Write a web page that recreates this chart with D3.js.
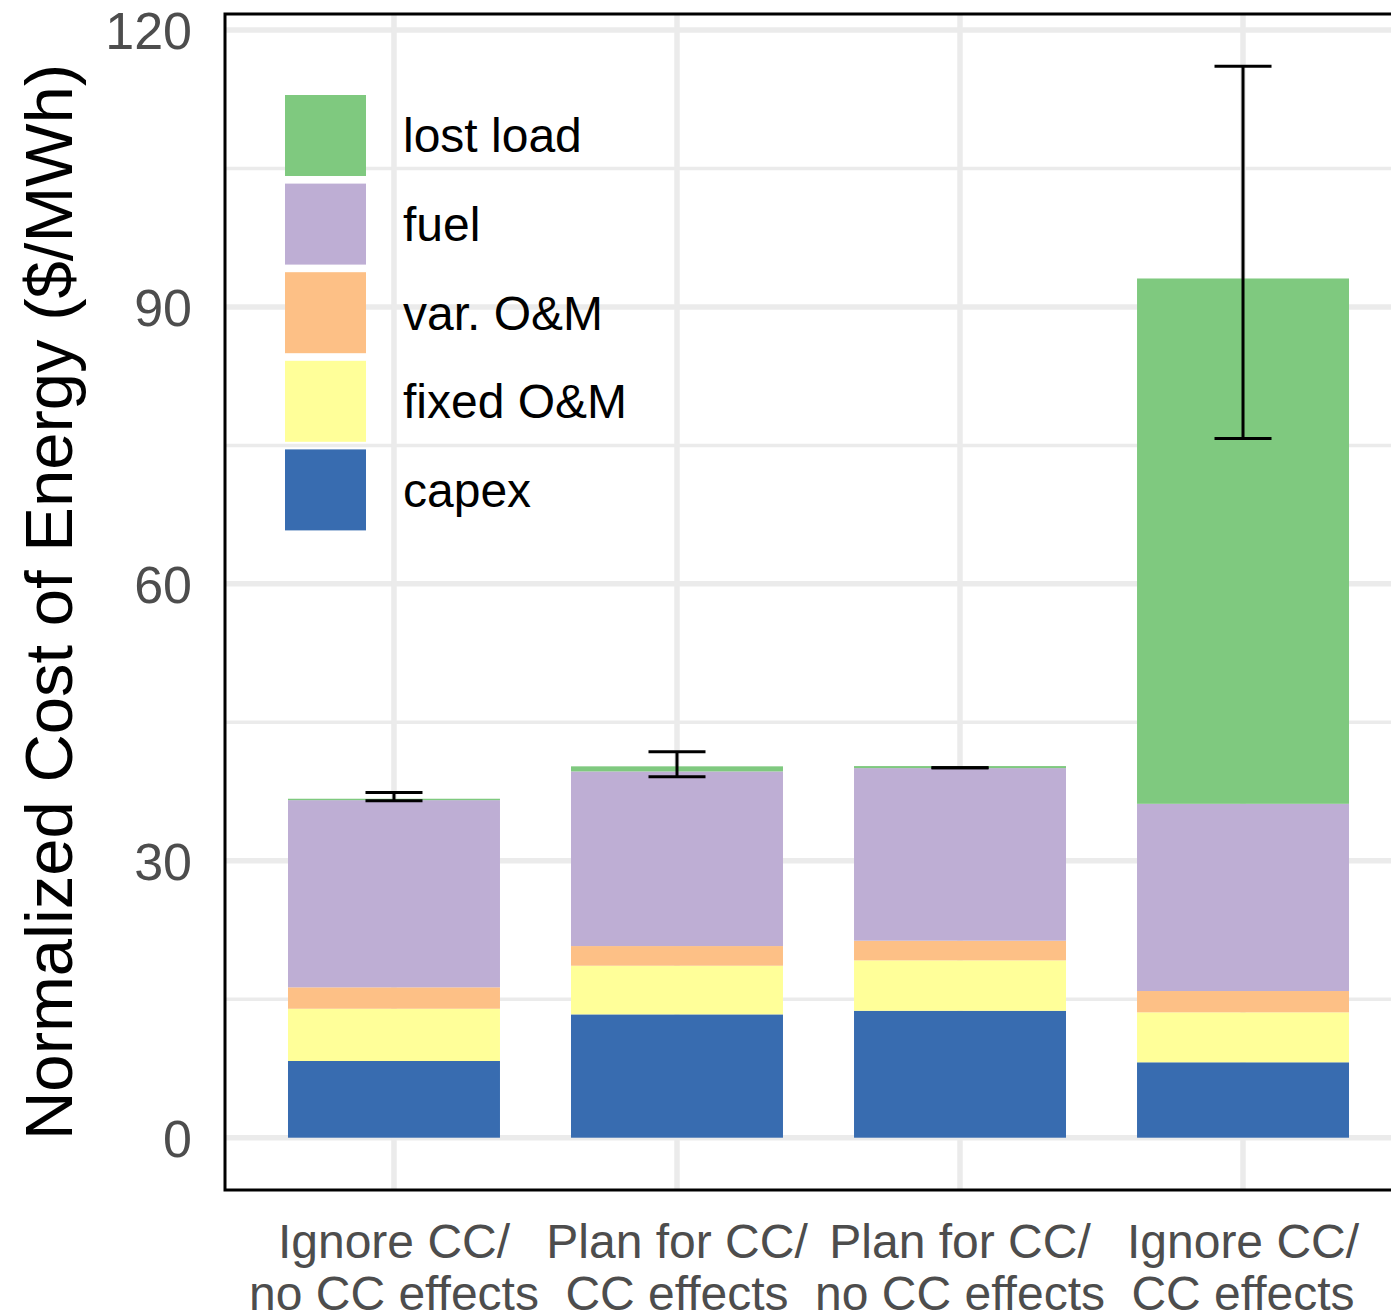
<!DOCTYPE html>
<html>
<head>
<meta charset="utf-8">
<script src="https://cdn.jsdelivr.net/npm/d3@7"></script>
<style>
  html, body { margin: 0; padding: 0; background: #fff; }
  svg { display: block; }
</style>
</head>
<body>
<svg id="chart" width="1391" height="1316"></svg>
<script>
// ---- data ----
const categories = [
  "Ignore CC/\nno CC effects",
  "Plan for CC/\nCC effects",
  "Plan for CC/\nno CC effects",
  "Ignore CC/\nCC effects"
];
const seriesNames = ["capex", "fixed O&M", "var. O&M", "fuel", "lost load"];
const capex    = [8.31, 13.36, 13.75, 8.17];
const fixedOM  = [5.66, 5.27, 5.46, 5.41];
const varOM    = [2.32, 2.13, 2.13, 2.31];
const fuel     = [20.28, 18.92, 18.70, 20.28];
const lostLoad = [0.15, 0.55, 0.22, 56.91];
const errLow   = [36.5, 39.1, 40.07, 75.75];
const errHigh  = [37.4, 41.8, 40.07, 116.07];
const yTicks = [0, 30, 60, 90, 120];
const yMinor = [15, 45, 75, 105];
const legendOrder = ["lost load", "fuel", "var. O&M", "fixed O&M", "capex"];
const colors = {
  "capex": "#386cb0",
  "fixed O&M": "#ffff99",
  "var. O&M": "#fdc086",
  "fuel": "#beaed4",
  "lost load": "#7fc97f"
};

// ---- layout ----
const panel = { left: 225, top: 14, bottom: 1190, right: 1412 };
const svg = d3.select("#chart");
const font = "'Liberation Sans', Arial, Helvetica, sans-serif";

const x = d3.scaleBand()
  .domain(categories)
  .range([panel.left, panel.right])
  .paddingInner(0.251)
  .paddingOuter(0.2226);

const y = d3.scaleLinear().domain([0, 120]).range([1137.7, 30]);

// table for stacking
const table = categories.map((c, i) => ({
  cat: c,
  "capex": capex[i],
  "fixed O&M": fixedOM[i],
  "var. O&M": varOM[i],
  "fuel": fuel[i],
  "lost load": lostLoad[i],
  lo: errLow[i],
  hi: errHigh[i]
}));
const stacked = d3.stack().keys(seriesNames)(table);

// panel background
svg.append("rect")
  .attr("x", panel.left).attr("y", panel.top)
  .attr("width", panel.right - panel.left).attr("height", panel.bottom - panel.top)
  .attr("fill", "#ffffff");

// grid
const grid = svg.append("g");
grid.selectAll("line.minor").data(yMinor).join("line")
  .attr("x1", panel.left).attr("x2", panel.right)
  .attr("y1", d => y(d)).attr("y2", d => y(d))
  .attr("stroke", "#ebebeb").attr("stroke-width", 3.5);
grid.selectAll("line.major").data(yTicks).join("line")
  .attr("x1", panel.left).attr("x2", panel.right)
  .attr("y1", d => y(d)).attr("y2", d => y(d))
  .attr("stroke", "#ebebeb").attr("stroke-width", 5.5);
grid.selectAll("line.vert").data(categories).join("line")
  .attr("x1", d => x(d) + x.bandwidth() / 2).attr("x2", d => x(d) + x.bandwidth() / 2)
  .attr("y1", panel.top).attr("y2", panel.bottom)
  .attr("stroke", "#ebebeb").attr("stroke-width", 5.5);

// legend (inside panel, drawn before bars)
const legend = svg.append("g");
const keyX = 285, keyY0 = 95, keySize = 81, keyStep = 88.6;
legendOrder.forEach((name, i) => {
  legend.append("rect")
    .attr("x", keyX).attr("y", keyY0 + i * keyStep)
    .attr("width", keySize).attr("height", keySize)
    .attr("fill", colors[name]);
  legend.append("text")
    .attr("x", 403).attr("y", keyY0 + i * keyStep + keySize / 2)
    .attr("dy", "0.35em")
    .attr("font-family", font).attr("font-size", 48)
    .attr("fill", "#000")
    .text(name);
});

// bars
const bars = svg.append("g");
stacked.forEach(layer => {
  bars.selectAll(null).data(layer).join("rect")
    .attr("x", d => x(d.data.cat))
    .attr("width", x.bandwidth())
    .attr("y", d => y(d[1]))
    .attr("height", d => Math.max(0, y(d[0]) - y(d[1])))
    .attr("fill", colors[layer.key]);
});

// error bars
const capW = 57;
const eb = svg.append("g").attr("stroke", "#000").attr("stroke-width", 3).attr("fill", "none");
table.forEach(d => {
  const cx = x(d.cat) + x.bandwidth() / 2;
  if (d.hi > d.lo) {
    eb.append("line").attr("x1", cx).attr("x2", cx).attr("y1", y(d.hi)).attr("y2", y(d.lo));
  }
  eb.append("line").attr("x1", cx - capW / 2).attr("x2", cx + capW / 2).attr("y1", y(d.hi)).attr("y2", y(d.hi));
  eb.append("line").attr("x1", cx - capW / 2).attr("x2", cx + capW / 2).attr("y1", y(d.lo)).attr("y2", y(d.lo));
});

// panel border
svg.append("rect")
  .attr("x", panel.left).attr("y", panel.top)
  .attr("width", panel.right - panel.left).attr("height", panel.bottom - panel.top)
  .attr("fill", "none").attr("stroke", "#000").attr("stroke-width", 3);

// y axis labels
const yAxis = d3.axisLeft(y).tickValues(yTicks).tickSize(0).tickPadding(33);
const yg = svg.append("g").attr("transform", `translate(${panel.left},0)`).call(yAxis);
yg.select(".domain").remove();
yg.selectAll("text")
  .attr("font-family", font).attr("font-size", 52).attr("fill", "#4d4d4d")
  .attr("dy", "0.36em");

// x axis labels
const xAxis = d3.axisBottom(x).tickSize(0).tickFormat(() => "");
const xg = svg.append("g").attr("transform", `translate(0,${panel.bottom})`).call(xAxis);
xg.select(".domain").remove();
xg.selectAll(".tick").each(function(d) {
  const lines = d.split("\n");
  const t = d3.select(this).append("text")
    .attr("font-family", font).attr("font-size", 48).attr("fill", "#4d4d4d")
    .attr("text-anchor", "middle");
  lines.forEach((ln, i) => {
    t.append("tspan").attr("x", 0).attr("y", 68 + i * 52).text(ln);
  });
});

// y title
svg.append("text")
  .attr("transform", `translate(72,${(panel.top + panel.bottom) / 2}) rotate(-90)`)
  .attr("text-anchor", "middle")
  .attr("font-family", font).attr("font-size", 67).attr("fill", "#000")
  .text("Normalized Cost of Energy ($/MWh)");
</script>
</body>
</html>
